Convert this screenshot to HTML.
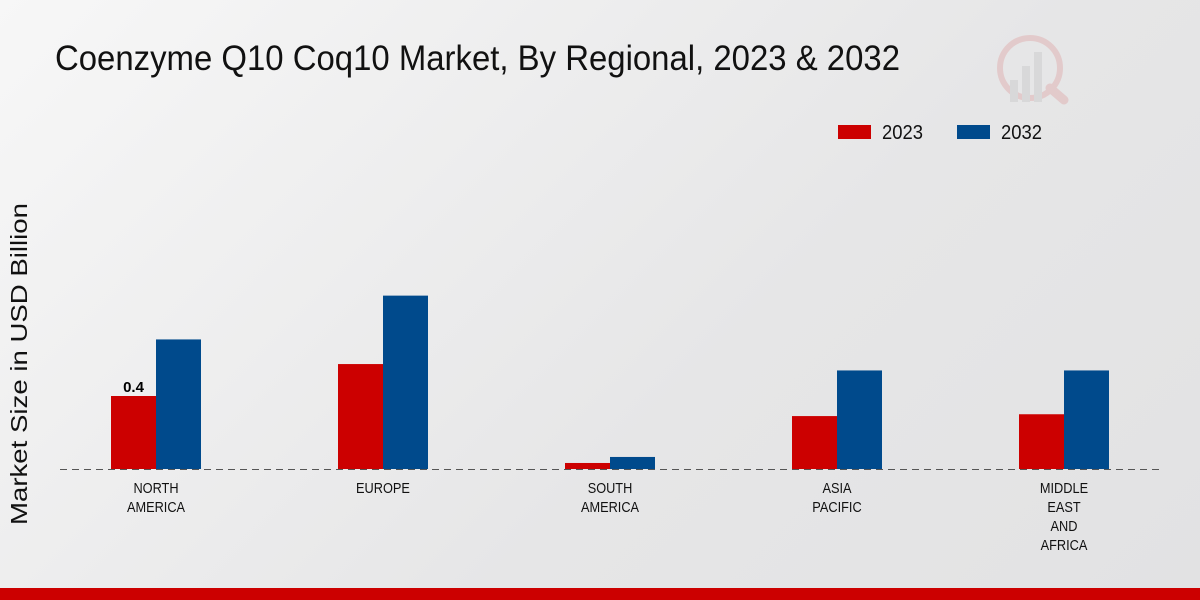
<!DOCTYPE html>
<html><head><meta charset="utf-8"><style>
body{margin:0;width:1200px;height:600px;overflow:hidden;background:linear-gradient(135deg,#f7f7f7 0%,#e6e6e7 60%,#e2e2e3 100%);font-family:"Liberation Sans Narrow","Liberation Sans",sans-serif;}
svg{position:absolute;left:0;top:0}
</style></head><body>
<svg width="1200" height="600">
<text x="55" y="70" font-size="35" fill="#111" textLength="845" lengthAdjust="spacingAndGlyphs">Coenzyme Q10 Coq10 Market, By Regional, 2023 &amp; 2032</text>
<g opacity="0.5">
<circle cx="1030" cy="68" r="30" fill="none" stroke="#e0b0b0" stroke-width="6"/>
<rect x="1010" y="80" width="8" height="22" fill="#ccc"/><rect x="1022" y="66" width="8" height="36" fill="#ccc"/><rect x="1034" y="52" width="8" height="50" fill="#ccc"/>
<line x1="1050" y1="88" x2="1064" y2="100" stroke="#e0b0b0" stroke-width="9" stroke-linecap="round"/>
</g>
<g>
<rect x="838" y="125" width="33" height="14" fill="#cc0000"/>
<text x="882" y="139" font-size="20" fill="#111" textLength="41" lengthAdjust="spacingAndGlyphs">2023</text>
<rect x="957" y="125" width="33" height="14" fill="#004a8c"/>
<text x="1001" y="139" font-size="20" fill="#111" textLength="41" lengthAdjust="spacingAndGlyphs">2032</text>
</g>
<text transform="translate(27,364) rotate(-90)" text-anchor="middle" font-size="23" fill="#111" textLength="322" lengthAdjust="spacingAndGlyphs">Market Size in USD Billion</text>
<g id="bars"></g>
<line x1="60" y1="469.5" x2="1160" y2="469.5" stroke="#555" stroke-dasharray="7,5"/>
<g id="labels"></g>
<rect x="0" y="588" width="1200" height="12" fill="#cc0000"/>
</svg>
<script>
const categories=[["NORTH","AMERICA"],["EUROPE"],["SOUTH","AMERICA"],["ASIA","PACIFIC"],["MIDDLE","EAST","AND","AFRICA"]];
const values2023=[0.4,0.575,0.033,0.29,0.30];
const values2032=[0.71,0.95,0.066,0.54,0.54];
const ns="http://www.w3.org/2000/svg";
const base=469,scale=182.5,x0=156,step=227,bw=45;
const y=v=>base-v*scale;
const bars=document.getElementById('bars'),labels=document.getElementById('labels');
categories.forEach((c,i)=>{
 const cx=x0+i*step;
 [[values2023[i],cx-bw,"#cc0000","2023"],[values2032[i],cx,"#004a8c","2032"]].forEach(([v,x,col,s])=>{
  const r=document.createElementNS(ns,'rect');
  r.setAttribute('x',x);r.setAttribute('y',y(v));r.setAttribute('width',bw);r.setAttribute('height',base-y(v));r.setAttribute('fill',col);
  
  
  bars.appendChild(r);
 });
 c.forEach((t,j)=>{
  const tx=document.createElementNS(ns,'text');
  tx.setAttribute('x',cx);tx.setAttribute('y',493+j*19);tx.setAttribute('text-anchor','middle');tx.setAttribute('font-size','15');tx.setAttribute('fill','#111');
  tx.textContent=t;
  
  
  labels.appendChild(tx);
  const w=tx.getComputedTextLength();
  tx.setAttribute('textLength',(w*0.85).toFixed(1));
  tx.setAttribute('lengthAdjust','spacingAndGlyphs');
 });
});
const vl=document.createElementNS(ns,'text');
vl.setAttribute('x',x0-bw/2);vl.setAttribute('y',y(values2023[0])-4);vl.setAttribute('text-anchor','middle');vl.setAttribute('font-size','15');vl.setAttribute('font-weight','bold');
vl.textContent=values2023[0];


labels.appendChild(vl);
</script>
</body></html>
